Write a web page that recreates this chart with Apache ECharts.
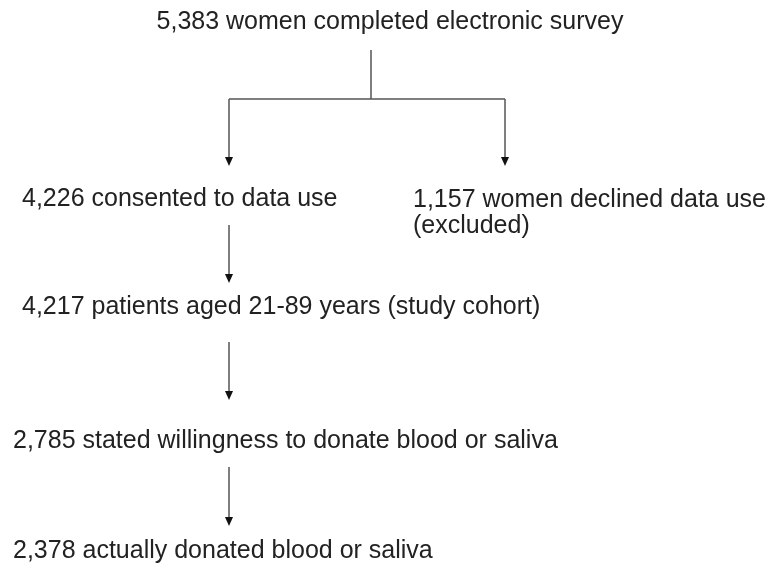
<!DOCTYPE html>
<html>
<head>
<meta charset="utf-8">
<script src="https://cdn.jsdelivr.net/npm/echarts@6/dist/echarts.min.js"></script>
<style>
html,body{margin:0;padding:0;background:#fff;}
#chart{width:773px;height:568px;}
</style>
</head>
<body>
<div id="chart"></div>
<script>
// ---- content (data) ----
var topLabel = '5,383 women completed electronic survey';
var leftLabels = [
  '4,226 consented to data use',
  '4,217 patients aged 21-89 years (study cohort)',
  '2,785 stated willingness to donate blood or saliva',
  '2,378 actually donated blood or saliva'
];
var excludedLabel = '1,157 women declined data use\n(excluded)';

// ---- layout (positions / styles) ----
var FONT = '"Liberation Sans", Arial, Helvetica, sans-serif';
var FS = 25;
var TEXT_COLOR = '#222';
var LINE_COLOR = '#555';
var LW = 1.5;
var DY = 2;
var topPos = {x: 390, y: 20};
var leftPos = [{x: 22, y: 197}, {x: 22, y: 305}, {x: 13, y: 439}, {x: 13, y: 549}];
var exclPos = {x: 413, y: 198};
var arrowX = 229;
var arrowSegs = [[225, 283], [342, 400], [467, 526]];
var branch = {cx: 371, top: 50, bar: 99, left: 229, right: 505, tip: 166};
var AH = 9, AW = 4;

var chart = echarts.init(document.getElementById('chart'));
var g = [];

function txt(s, x, y, align, va) {
  g.push({type: 'text', x: x, y: y + DY, style: {text: s, fill: TEXT_COLOR, font: FS + 'px ' + FONT,
    align: align, verticalAlign: va || 'middle', lineHeight: 26}});
}
function line(pts) {
  g.push({type: 'polyline', shape: {points: pts}, style: {stroke: LINE_COLOR, lineWidth: LW, fill: null}});
}
function head(x, tipY) {
  g.push({type: 'polygon', shape: {points: [[x - AW, tipY - AH], [x + AW, tipY - AH], [x, tipY]]},
    style: {fill: '#111', stroke: null}});
}
function arrow(x, y0, y1) { line([[x, y0], [x, y1 - AH + 1]]); head(x, y1); }

txt(topLabel, topPos.x, topPos.y, 'center');
leftLabels.forEach(function (s, i) { txt(s, leftPos[i].x, leftPos[i].y, 'left'); });
txt(excludedLabel, exclPos.x, exclPos.y - 13, 'left', 'top');

line([[branch.cx, branch.top], [branch.cx, branch.bar]]);
line([[branch.left, branch.bar], [branch.right, branch.bar]]);
arrow(branch.left, branch.bar, branch.tip);
arrow(branch.right, branch.bar, branch.tip);
arrowSegs.forEach(function (s) { arrow(arrowX, s[0], s[1]); });

chart.setOption({backgroundColor: '#fff', graphic: {elements: g}});
</script>
</body>
</html>
